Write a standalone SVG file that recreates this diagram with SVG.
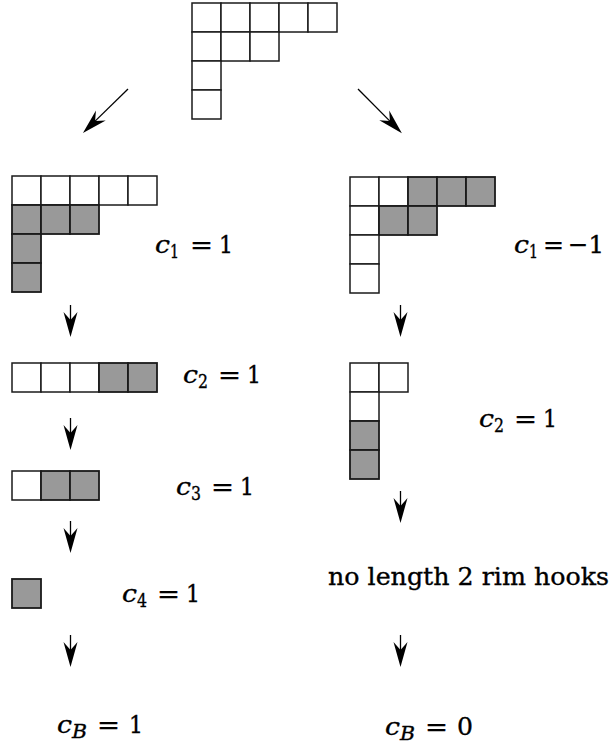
<svg xmlns="http://www.w3.org/2000/svg" width="614" height="744" viewBox="0 0 614 744">
<style>
.w{fill:#fff;stroke:#1a1a1a;stroke-width:1.5}
.g{fill:#999;stroke:#1a1a1a;stroke-width:1.8}
.t{font-family:"DejaVu Serif","Liberation Serif",serif;font-size:25px;fill:#000;stroke:#000;stroke-width:0.35}
.i{font-style:italic}
.s{font-size:18px}
.ar{stroke:#000;stroke-width:1.3;fill:none;marker-end:url(#ah)}
</style>
<defs>
<marker id="ah" viewBox="-9 -8 28 16" markerWidth="28" markerHeight="16" refX="0" refY="0" markerUnits="userSpaceOnUse" orient="auto" overflow="visible">
<path d="M17,0 L-8,-7 L0,0 L-8,7 Z" fill="#000"/>
</marker>
</defs>
<rect width="614" height="744" fill="#fff"/>

<g id="top">
<rect class="w" x="192" y="3" width="29" height="29"/><rect class="w" x="221" y="3" width="29" height="29"/><rect class="w" x="250" y="3" width="29" height="29"/><rect class="w" x="279" y="3" width="29" height="29"/><rect class="w" x="308" y="3" width="29" height="29"/>
<rect class="w" x="192" y="32" width="29" height="29"/><rect class="w" x="221" y="32" width="29" height="29"/><rect class="w" x="250" y="32" width="29" height="29"/>
<rect class="w" x="192" y="61" width="29" height="29"/>
<rect class="w" x="192" y="90" width="29" height="29"/>
</g>

<g id="left1">
<rect class="w" x="12" y="176" width="29" height="29"/><rect class="w" x="41" y="176" width="29" height="29"/><rect class="w" x="70" y="176" width="29" height="29"/><rect class="w" x="99" y="176" width="29" height="29"/><rect class="w" x="128" y="176" width="29" height="29"/>
<rect class="g" x="12" y="205" width="29" height="29"/><rect class="g" x="41" y="205" width="29" height="29"/><rect class="g" x="70" y="205" width="29" height="29"/>
<rect class="g" x="12" y="234" width="29" height="29"/>
<rect class="g" x="12" y="263" width="29" height="29"/>
<text class="t" y="253"><tspan class="i" x="155" textLength="15" lengthAdjust="spacingAndGlyphs">c</tspan><tspan class="s" x="170" y="258" textLength="9" lengthAdjust="spacingAndGlyphs">1</tspan><tspan x="190" y="253" textLength="23" lengthAdjust="spacingAndGlyphs">=</tspan><tspan x="219" textLength="14" lengthAdjust="spacingAndGlyphs">1</tspan></text>
</g>

<g id="right1">
<rect class="w" x="350" y="177" width="29" height="29"/><rect class="w" x="379" y="177" width="29" height="29"/><rect class="g" x="408" y="177" width="29" height="29"/><rect class="g" x="437" y="177" width="29" height="29"/><rect class="g" x="466" y="177" width="29" height="29"/>
<rect class="w" x="350" y="206" width="29" height="29"/><rect class="g" x="379" y="206" width="29" height="29"/><rect class="g" x="408" y="206" width="29" height="29"/>
<rect class="w" x="350" y="235" width="29" height="29"/>
<rect class="w" x="350" y="264" width="29" height="29"/>
<text class="t" y="253"><tspan class="i" x="514" textLength="15" lengthAdjust="spacingAndGlyphs">c</tspan><tspan class="s" x="529" y="258" textLength="9" lengthAdjust="spacingAndGlyphs">1</tspan><tspan x="543" y="253" textLength="21" lengthAdjust="spacingAndGlyphs">=</tspan><tspan x="568" textLength="36" lengthAdjust="spacingAndGlyphs">−1</tspan></text>
</g>

<g id="left2">
<rect class="w" x="12" y="363" width="29" height="29"/><rect class="w" x="41" y="363" width="29" height="29"/><rect class="w" x="70" y="363" width="29" height="29"/><rect class="g" x="99" y="363" width="29" height="29"/><rect class="g" x="128" y="363" width="29" height="29"/>
<text class="t" y="383"><tspan class="i" x="183" textLength="15" lengthAdjust="spacingAndGlyphs">c</tspan><tspan class="s" x="198" y="388" textLength="10" lengthAdjust="spacingAndGlyphs">2</tspan><tspan x="218" y="383" textLength="23" lengthAdjust="spacingAndGlyphs">=</tspan><tspan x="247" textLength="14" lengthAdjust="spacingAndGlyphs">1</tspan></text>
</g>

<g id="right2">
<rect class="w" x="350" y="363" width="29" height="29"/><rect class="w" x="379" y="363" width="29" height="29"/>
<rect class="w" x="350" y="392" width="29" height="29"/>
<rect class="g" x="350" y="421" width="29" height="29"/>
<rect class="g" x="350" y="450" width="29" height="29"/>
<text class="t" y="427"><tspan class="i" x="479" textLength="15" lengthAdjust="spacingAndGlyphs">c</tspan><tspan class="s" x="494" y="432" textLength="10" lengthAdjust="spacingAndGlyphs">2</tspan><tspan x="514" y="427" textLength="23" lengthAdjust="spacingAndGlyphs">=</tspan><tspan x="543" textLength="14" lengthAdjust="spacingAndGlyphs">1</tspan></text>
</g>

<g id="left3">
<rect class="w" x="12" y="471" width="29" height="29"/><rect class="g" x="41" y="471" width="29" height="29"/><rect class="g" x="70" y="471" width="29" height="29"/>
<text class="t" y="495"><tspan class="i" x="176" textLength="15" lengthAdjust="spacingAndGlyphs">c</tspan><tspan class="s" x="191" y="500" textLength="10" lengthAdjust="spacingAndGlyphs">3</tspan><tspan x="211" y="495" textLength="23" lengthAdjust="spacingAndGlyphs">=</tspan><tspan x="240" textLength="14" lengthAdjust="spacingAndGlyphs">1</tspan></text>
</g>

<g id="left4">
<rect class="g" x="12" y="579" width="29" height="29"/>
<text class="t" y="602"><tspan class="i" x="122" textLength="15" lengthAdjust="spacingAndGlyphs">c</tspan><tspan class="s" x="137" y="607" textLength="10" lengthAdjust="spacingAndGlyphs">4</tspan><tspan x="157" y="602" textLength="23" lengthAdjust="spacingAndGlyphs">=</tspan><tspan x="186" textLength="14" lengthAdjust="spacingAndGlyphs">1</tspan></text>
</g>

<g id="nohooks">
<text class="t" x="328" y="585" textLength="281" lengthAdjust="spacingAndGlyphs">no length 2 rim hooks</text>
</g>

<g id="cB1">
<text class="t" y="733"><tspan class="i" x="57" textLength="15" lengthAdjust="spacingAndGlyphs">c</tspan><tspan class="s i" x="72" y="738" textLength="15" lengthAdjust="spacingAndGlyphs">B</tspan><tspan x="97" y="733" textLength="23" lengthAdjust="spacingAndGlyphs">=</tspan><tspan x="129" textLength="14" lengthAdjust="spacingAndGlyphs">1</tspan></text>
</g>

<g id="cB0">
<text class="t" y="735"><tspan class="i" x="385" textLength="15" lengthAdjust="spacingAndGlyphs">c</tspan><tspan class="s i" x="400" y="740" textLength="15" lengthAdjust="spacingAndGlyphs">B</tspan><tspan x="425" y="735" textLength="23" lengthAdjust="spacingAndGlyphs">=</tspan><tspan x="457" textLength="16" lengthAdjust="spacingAndGlyphs">0</tspan></text>
</g>

<g id="connectors">
<line class="ar" x1="128" y1="89" x2="95.1" y2="121.1"/>
<line class="ar" x1="358" y1="89" x2="389.9" y2="121.1"/>
<line class="ar" x1="70.5" y1="305" x2="70.5" y2="320"/>
<line class="ar" x1="70.5" y1="418" x2="70.5" y2="433"/>
<line class="ar" x1="70.5" y1="521" x2="70.5" y2="536"/>
<line class="ar" x1="70.5" y1="635" x2="70.5" y2="650"/>
<line class="ar" x1="400.5" y1="305" x2="400.5" y2="320"/>
<line class="ar" x1="400.5" y1="491" x2="400.5" y2="506"/>
<line class="ar" x1="400.5" y1="635" x2="400.5" y2="650"/>
</g>
</svg>
